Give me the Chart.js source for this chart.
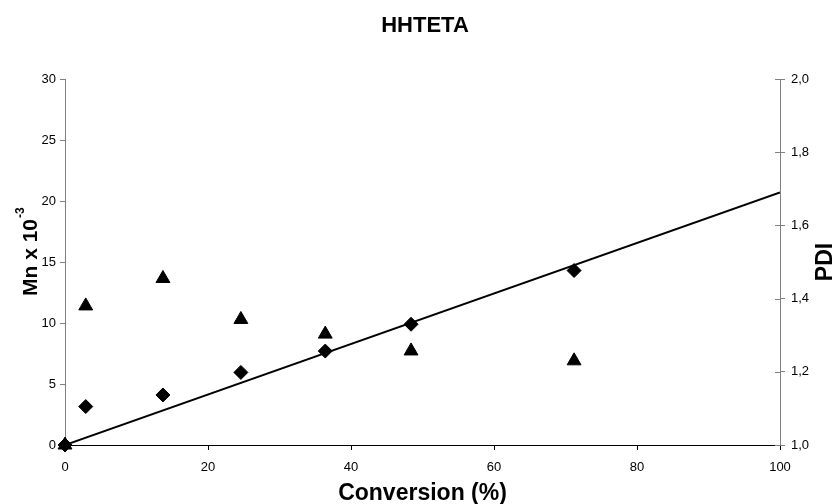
<!DOCTYPE html>
<html>
<head>
<meta charset="utf-8">
<script src="https://cdn.jsdelivr.net/npm/chart.js@4/dist/chart.umd.min.js"></script>
<style>
html,body{margin:0;padding:0;background:#fff;}
#wrap{width:835px;height:504px;position:relative;}
</style>
</head>
<body>
<div id="wrap"><canvas id="c" width="835" height="504"></canvas></div>
<script>
// ---- data ----
const chartTitle = 'HHTETA';
const xTitle = 'Conversion (%)';
const yTitleMain = 'Mn x 10';
const yTitleSup = '-3';
const y2Title = 'PDI';

const conversion = [0, 2.9, 13.7, 24.6, 36.4, 48.4, 71.2];
const mnValues   = [0, 3.15, 4.1, 5.95, 7.7, 9.9, 14.3];
const pdiValues  = [1.0, 1.38, 1.455, 1.343, 1.303, 1.257, 1.23];
const fitX  = [0, 100];
const fitMn = [0, 20.7];

const xTickLabels  = ['0', '20', '40', '60', '80', '100'];
const yTickLabels  = ['0', '5', '10', '15', '20', '25', '30'];
const y2TickLabels = ['1,0', '1,2', '1,4', '1,6', '1,8', '2,0'];

const FONT = '"Liberation Sans", Arial, sans-serif';

const toPts = (xs, ys) => xs.map((x, i) => ({x: x, y: ys[i]}));

const titlesPlugin = {
  id: 'titles',
  afterDraw(chart) {
    const ctx = chart.ctx;
    const ca = chart.chartArea;
    ctx.save();
    ctx.fillStyle = '#000';
    // chart title
    ctx.font = 'bold 22px ' + FONT;
    ctx.textAlign = 'center';
    ctx.textBaseline = 'alphabetic';
    ctx.fillText(chartTitle, 425, 32);
    // x title
    ctx.font = 'bold 23px ' + FONT;
    ctx.fillText(xTitle, (ca.left + ca.right) / 2, 500);
    // left y title with superscript
    ctx.save();
    ctx.translate(37, 296);
    ctx.rotate(-Math.PI / 2);
    ctx.textAlign = 'left';
    ctx.font = 'bold 21px ' + FONT;
    ctx.fillText(yTitleMain, 0, 0);
    const w = ctx.measureText(yTitleMain).width;
    ctx.font = 'bold 12px ' + FONT;
    ctx.fillText(yTitleSup, w + 1, -13);
    ctx.restore();
    // right y title
    ctx.save();
    ctx.translate(832, (ca.top + ca.bottom) / 2);
    ctx.rotate(-Math.PI / 2);
    ctx.textAlign = 'center';
    ctx.font = 'bold 23px ' + FONT;
    ctx.fillText(y2Title, 0, 0);
    ctx.restore();
    // inner half of the right-axis tick marks (they cross the axis)
    const y2 = chart.scales.y2;
    ctx.strokeStyle = '#808080';
    ctx.lineWidth = 1;
    y2.ticks.forEach(t => {
      const py = Math.round(y2.getPixelForValue(t.value)) + 0.5;
      ctx.beginPath();
      ctx.moveTo(ca.right - 5, py);
      ctx.lineTo(ca.right, py);
      ctx.stroke();
    });
    ctx.restore();
  }
};

new Chart(document.getElementById('c'), {
  type: 'scatter',
  data: {
    datasets: [
      {
        label: 'Fit',
        type: 'line',
        data: toPts(fitX, fitMn),
        borderColor: '#000',
        borderWidth: 2,
        pointRadius: 0,
        fill: false,
        yAxisID: 'y',
        order: 3
      },
      {
        label: 'Mn',
        data: toPts(conversion, mnValues),
        pointStyle: 'rectRot',
        pointRadius: 7,
        pointHoverRadius: 7,
        backgroundColor: '#000',
        borderColor: '#000',
        borderWidth: 1,
        yAxisID: 'y',
        clip: false,
        order: 1
      },
      {
        label: 'PDI',
        data: toPts(conversion, pdiValues),
        pointStyle: 'triangle',
        pointRadius: 8,
        pointHoverRadius: 8,
        backgroundColor: '#000',
        borderColor: '#000',
        borderWidth: 1,
        yAxisID: 'y2',
        clip: false,
        order: 2
      }
    ]
  },
  options: {
    responsive: false,
    animation: false,
    events: [],
    layout: { padding: { top: 79, left: 0, right: 0, bottom: 0 } },
    plugins: {
      legend: { display: false },
      title: { display: false },
      tooltip: { enabled: false }
    },
    scales: {
      x: {
        type: 'linear',
        min: 0, max: 100,
        afterFit(s) { s.height = 59; },
        ticks: {
          stepSize: 20,
          padding: 10,
          color: '#000',
          font: { family: FONT, size: 13 },
          maxRotation: 0,
          callback: (v) => xTickLabels[Math.round(v / 20)]
        },
        grid: { drawOnChartArea: false, drawTicks: true, tickLength: 5, tickColor: '#000' },
        border: { display: true, color: '#000', width: 1 }
      },
      y: {
        type: 'linear',
        position: 'left',
        min: 0, max: 30,
        afterFit(s) { s.width = 65; },
        ticks: {
          stepSize: 5,
          padding: 4,
          color: '#000',
          font: { family: FONT, size: 13 },
          callback: (v) => yTickLabels[Math.round(v / 5)]
        },
        grid: { drawOnChartArea: false, drawTicks: true, tickLength: 5, tickColor: '#808080' },
        border: { display: true, color: '#808080', width: 1 }
      },
      y2: {
        type: 'linear',
        position: 'right',
        min: 1.0, max: 2.0,
        afterFit(s) { s.width = 55; },
        ticks: {
          stepSize: 0.2,
          padding: 6,
          color: '#000',
          font: { family: FONT, size: 13 },
          callback: (v) => y2TickLabels[Math.round((v - 1) / 0.2)]
        },
        grid: { drawOnChartArea: false, drawTicks: true, tickLength: 5, tickColor: '#808080' },
        border: { display: true, color: '#808080', width: 1 }
      }
    }
  },
  plugins: [titlesPlugin]
});
</script>
</body>
</html>
